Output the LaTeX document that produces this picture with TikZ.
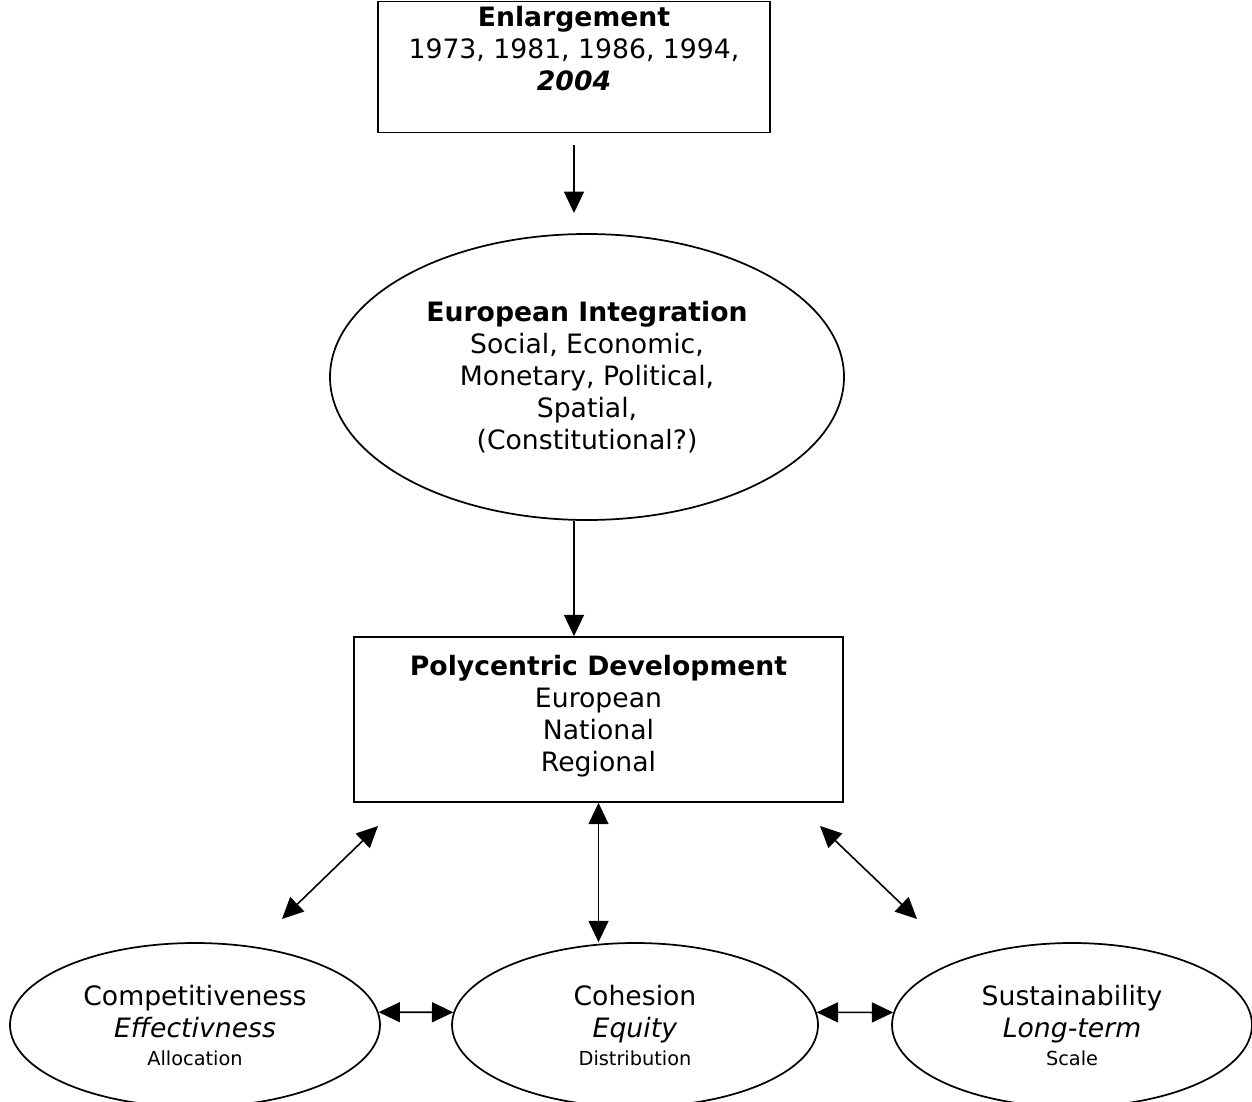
\documentclass[tikz,border=0pt]{standalone}
\usepackage{fontspec}
\setmainfont{DejaVu Sans}
\usetikzlibrary{arrows.meta,shapes.geometric}

\newcommand{\smalltxt}{\fontsize{14.5}{17}\selectfont}

\tikzset{
  box/.style={draw, line width=1.3pt, rectangle, inner sep=0pt},
  oval/.style={draw, line width=1.3pt, ellipse, inner sep=0pt, align=center},
  arr/.style={line width=1.2pt, -{Triangle[length=16pt,width=15pt]}},
  dbl/.style={line width=1.2pt, {Triangle[length=16pt,width=15pt]}-{Triangle[length=16pt,width=15pt]}},
  txt/.style={align=center, inner sep=0pt}
}

\begin{document}
\begin{tikzpicture}[x=0.75pt, y=-0.75pt, font=\fontsize{20}{24}\selectfont]
\useasboundingbox (0,0) rectangle (1252,1102);

\node[box, minimum width=294pt, minimum height=98.25pt] (enl) at (574,67) {};
\node[txt, anchor=north] (enltxt) at (574,6) {\textbf{Enlargement}\\1973, 1981, 1986, 1994,\\\textbf{\textit{2004}}};

\node[oval, minimum width=385.5pt, minimum height=214.5pt] (eu) at (587,377)
  {\textbf{European Integration}\\Social, Economic,\\Monetary, Political,\\Spatial,\\(Constitutional?)};

\node[box, minimum width=366.75pt, minimum height=123.75pt] (poly) at (598.5,719.5) {};
\node[txt] (polytxt) at (598.5,716) {\textbf{Polycentric Development}\\European\\National\\Regional};

\node[oval, minimum width=277.5pt, minimum height=123pt] (comp) at (195,1025)
  {Competitiveness\\\textit{Effectivness}\\[-3pt]{\smalltxt Allocation}};
\node[oval, minimum width=274.5pt, minimum height=123pt] (coh) at (635,1025)
  {Cohesion\\\textit{Equity}\\[-3pt]{\smalltxt Distribution}};
\node[oval, minimum width=270pt, minimum height=123pt] (sus) at (1072,1025)
  {Sustainability\\\textit{Long-term}\\[-3pt]{\smalltxt Scale}};

\coordinate (a1s) at (574,145);
\coordinate (a1e) at (574,213);
\coordinate (dl1) at (378,826);
\coordinate (dl2) at (282,919);
\coordinate (dr1) at (820,826);
\coordinate (dr2) at (917,919);

\draw[arr] (a1s) -- (a1e);
\draw[arr] ([xshift=-9.75pt]eu.south) -- ([xshift=-9.75pt]eu.south |- poly.north);
\draw[dbl] (poly.south) -- (poly.south |- coh.north);
\draw[dbl] (dl1) -- (dl2);
\draw[dbl] (dr1) -- (dr2);
\draw[dbl] (comp.4) -- (coh.176);
\draw[dbl] (coh.4) -- (sus.176);
\end{tikzpicture}
\end{document}
